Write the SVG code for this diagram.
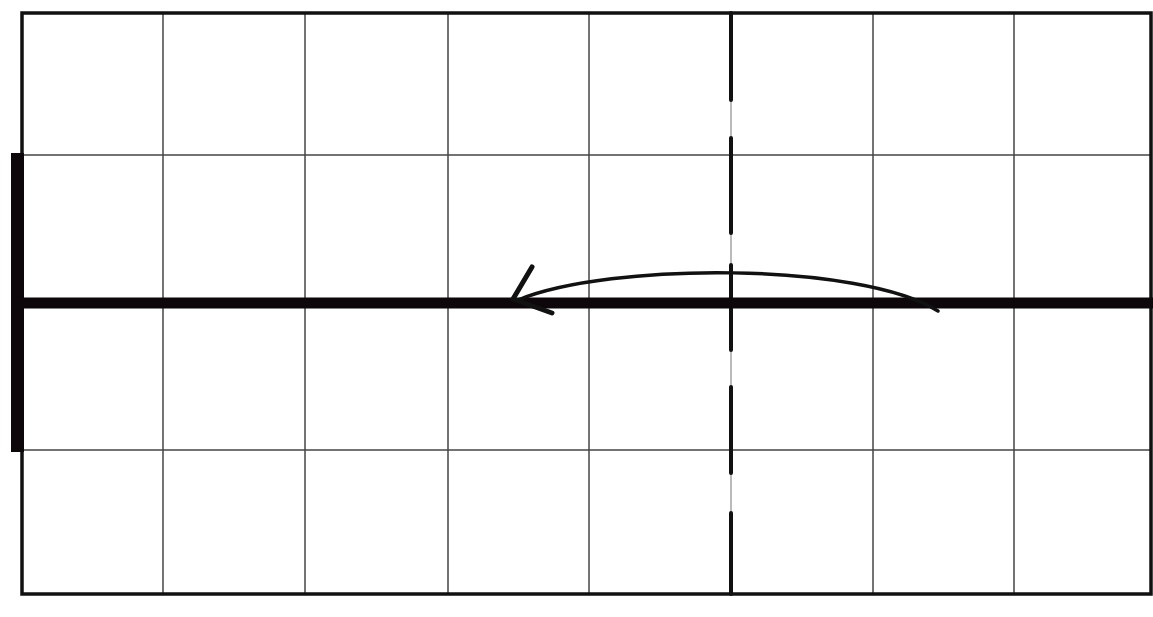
<svg xmlns="http://www.w3.org/2000/svg" width="1153" height="617" viewBox="0 0 1153 617">
<style>
.grid{stroke:#444;stroke-width:1.5;fill:none}
.border{stroke:#111;stroke-width:3.5;fill:none}
.dash{stroke:#111;stroke-width:4;fill:none;stroke-linecap:round}
.faint{stroke:#777;stroke-width:1;fill:none}
.thick{stroke:#0d070b;stroke-width:11;fill:none}
.curve{stroke:#111;stroke-width:3.5;fill:none;stroke-linecap:round}
.head{stroke:#111;stroke-width:5;fill:none;stroke-linecap:round;stroke-linejoin:round}
</style>
<rect width="1153" height="617" fill="#fff"/>
<g id="grid">
<line class="grid" x1="163" y1="13" x2="163" y2="594"/>
<line class="grid" x1="305" y1="13" x2="305" y2="594"/>
<line class="grid" x1="448" y1="13" x2="448" y2="594"/>
<line class="grid" x1="589" y1="13" x2="589" y2="594"/>
<line class="grid" x1="873" y1="13" x2="873" y2="594"/>
<line class="grid" x1="1014" y1="13" x2="1014" y2="594"/>
<line class="grid" x1="22" y1="155" x2="1151" y2="155"/>
<line class="grid" x1="22" y1="450" x2="1151" y2="450"/>
</g>
<g id="border">
<rect class="border" x="22" y="13" width="1129" height="581"/>
</g>
<g id="centerline">
<line class="faint" x1="731" y1="13" x2="731" y2="594"/>
<line class="dash" x1="731" y1="13" x2="731" y2="100"/>
<line class="dash" x1="731" y1="138" x2="731" y2="233"/>
<line class="dash" x1="731" y1="265" x2="731" y2="350"/>
<line class="dash" x1="731" y1="387" x2="731" y2="473"/>
<line class="dash" x1="731" y1="513" x2="731" y2="594"/>
</g>
<g id="left-bar">
<rect x="11" y="153" width="13" height="299" fill="#0d070b"/>
</g>
<g id="axis">
<line class="thick" x1="14" y1="303" x2="1153" y2="303"/>
</g>
<g id="connectors">
<path class="curve" d="M938,311 C860,262 610,262 518,300"/>
<path class="head" d="M532,267 L513,299 L552,313"/>
</g>
</svg>
